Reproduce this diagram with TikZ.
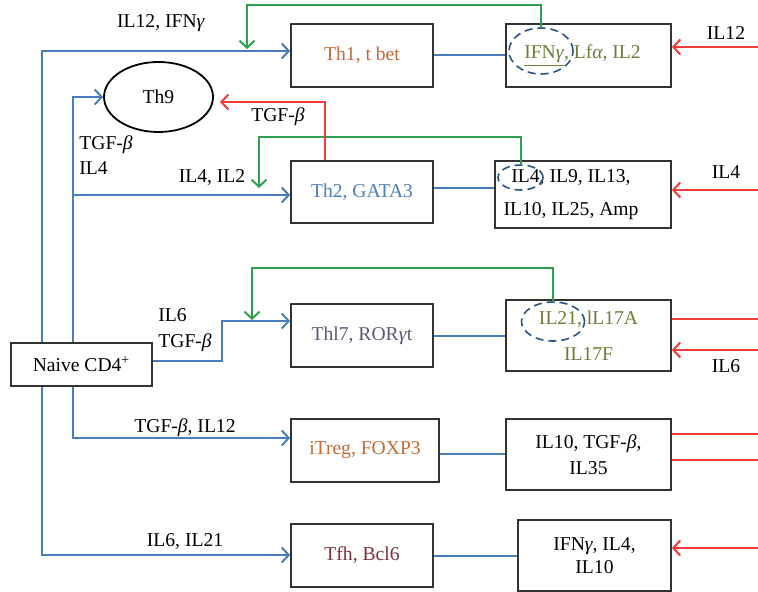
\documentclass[tikz,border=0pt]{standalone}
\usepackage{fontspec}
\setmainfont{Liberation Serif}
\usetikzlibrary{arrows.meta,shapes.geometric}
\definecolor{flowblue}{HTML}{4A7EBB}
\definecolor{loopgreen}{HTML}{2EA04E}
\definecolor{signred}{HTML}{F23B3B}
\definecolor{ringblue}{HTML}{2B5486}
\definecolor{txtorange}{HTML}{C46A35}
\definecolor{txtolive}{HTML}{6A7F3A}
\definecolor{txtpurple}{HTML}{5D5878}
\definecolor{txtmaroon}{HTML}{7B3238}
\definecolor{boxgray}{HTML}{333333}
\tikzset{
  cell/.style 2 args={draw=boxgray, line width=0.9pt, fill=white, inner sep=0pt,
    minimum width=0.5pt*#1, minimum height=0.5pt*#2, align=center},
  ring/.style 2 args={draw=ringblue, ellipse, dash pattern=on 4pt off 2.5pt, line width=0.8pt,
    inner sep=0pt, outer sep=0pt, minimum width=0.5pt*#1, minimum height=0.5pt*#2},
  flow/.style={draw=flowblue, line width=1pt},
  loop/.style={draw=loopgreen, line width=1pt, ->},
  sig/.style={draw=signred, line width=1pt},
  lbl/.style={inner sep=0pt}
}
\begin{document}
\begin{tikzpicture}[x=0.5pt, y=-0.5pt, font=\fontsize{9.8}{11.8}\selectfont,
    >={Straight Barb[length=3.5pt,width=7.5pt]}]
    \useasboundingbox (0,0) rectangle (758,592);
    \coordinate (ta) at (42,0);
    \coordinate (tb) at (73,0);
    \coordinate (g1) at (247,49);
    \coordinate (g2) at (259,188);
    \coordinate (g3) at (252,320);
    \coordinate (s9) at (220,102);

    \node[cell={142}{63}, text=txtorange] (th1) at (362,55.5) {Th1, t bet};
    \node[cell={165}{63}, text=txtolive] (th1out) at (588.5,55.5) {\underline{IFN\textit{γ}}, Lf\textit{α}, IL2\hspace*{6pt}};
    \node[draw, ellipse, line width=0.9pt, minimum width=54.5pt, minimum height=35pt] (th9) at (158.5,97) {Th9};
    \node[cell={142}{62}, text=flowblue] (th2) at (362,192) {Th2, GATA3};
    \node[cell={176}{67}] (th2out) at (583,194.5) {IL4, IL9, IL13,\hspace*{12pt}\\[4.5pt]IL10, IL25, Amp\hspace*{12pt}};
    \node[cell={142}{63}, text=txtpurple] (th17) at (362,335.5) {Thl7, ROR\textit{γ}t};
    \node[cell={165}{71}, text=txtolive] (th17out) at (588.5,335.5) {IL21, lL17A\\[6pt]IL17F};
    \node[cell={141}{43}] (naive) at (81.5,364.5) {Naive CD4\textsuperscript{+}};
    \node[cell={148}{63}, text=txtorange] (itreg) at (365,450.5) {iTreg, FOXP3};
    \node[cell={165}{71}] (itregout) at (588.5,454.5) {IL10, TGF-\textit{β},\\[1pt]IL35};
    \node[cell={142}{63}, text=txtmaroon] (tfh) at (362,555.5) {Tfh, Bcl6};
    \node[cell={153}{71}] (tfhout) at (594.5,555.5) {IFN\textit{γ}, IL4,\\IL10};

    \node[ring={64}{46}] (r1) at (541,51) {};
    \node[ring={45}{25}] (r2) at (520.5,177.5) {};
    \node[ring={63}{39}] (r3) at (553,321.5) {};

    \draw[flow,->] (naive.north -| ta) |- ([yshift=2.25pt]th1.west);
    \draw[flow,->] (naive.south -| ta) |- ([yshift=0.25pt]tfh.west);
    \draw[flow,->] (naive.north -| tb) |- (th9.west);
    \draw[flow,->] (naive.north -| tb) |- ([yshift=-1.5pt]th2.west);
    \draw[flow,->] (naive.south -| tb) |- ([yshift=6.25pt]itreg.west);
    \draw[flow,->] ([yshift=1.75pt]naive.east) -- ++(69,0) |- ([yshift=7.25pt]th17.west);

    \draw[flow] ([yshift=0.25pt]th1.east) -- ([yshift=0.25pt]th1out.west);
    \draw[flow] ([yshift=2pt]th2.east) -- ([yshift=3.25pt]th2out.west);
    \draw[flow] ([yshift=-0.25pt]th17.east) -- ([yshift=-0.25pt]th17out.west);
    \draw[flow] ([yshift=-1.75pt]itreg.east) -- ([yshift=0.25pt]itregout.west);
    \draw[flow] ([yshift=-0.25pt]tfh.east) -- ([yshift=-0.25pt]tfhout.west);

    \draw[loop] (r1.north) -- ++(0,-23) -| (g1);
    \draw[loop] (r2.north) -- ++(0,-28) -| (g2);
    \draw[loop] (r3.north) -- ++(0,-34) -| (g3);

    \draw[sig,->] ([xshift=-18.5pt]th2.north) |- (s9);
    \draw[sig,<-] ([yshift=4.25pt]th1out.east) -- ++(87,0);
    \draw[sig,<-] ([yshift=2.25pt]th2out.east) -- ++(87,0);
    \draw[sig] ([yshift=8.25pt]th17out.east) -- ++(87,0);
    \draw[sig,<-] ([yshift=-7.25pt]th17out.east) -- ++(87,0);
    \draw[sig] ([yshift=10.25pt]itregout.east) -- ++(87,0);
    \draw[sig] ([yshift=-2.75pt]itregout.east) -- ++(87,0);
    \draw[sig,<-] ([yshift=3.75pt]tfhout.east) -- ++(87,0);

    \node[lbl] (l1) at (161,23) {IL12, IFN\textit{γ}};
    \node[lbl] (l9) at (278,117) {TGF-\textit{β}};
    \node[lbl, anchor=west] (l9a) at (79,145) {TGF-\textit{β}};
    \node[lbl, anchor=west] (l9b) at (79,168) {IL4};
    \node[lbl] (l2) at (212,178) {IL4, IL2};
    \node[lbl] (l1r) at (726,33) {IL12};
    \node[lbl] (l2r) at (726,172) {IL4};
    \node[lbl, anchor=west] (l17a) at (158,315) {IL6};
    \node[lbl, anchor=west] (l17b) at (158,343) {TGF-\textit{β}};
    \node[lbl] (l17r) at (726,366) {IL6};
    \node[lbl] (lt) at (185,428) {TGF-\textit{β}, IL12};
    \node[lbl] (lf) at (185,542) {IL6, IL21};
\end{tikzpicture}
\end{document}
